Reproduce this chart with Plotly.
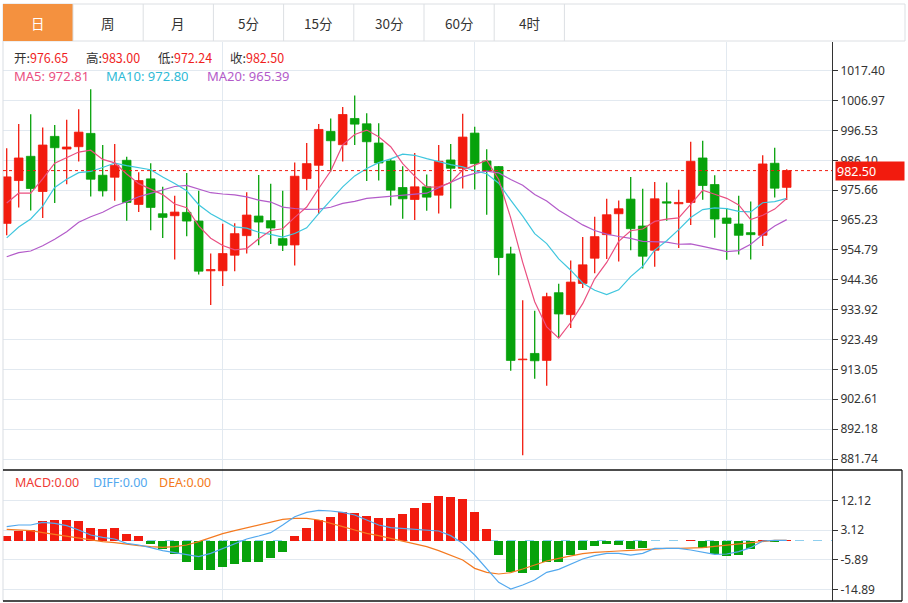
import numpy as np
import pandas as pd
import plotly.graph_objects as go

# ---------------- data ----------------
open_ = [964.07, 979.03, 987.49, 975.20, 994.45, 990.04, 990.85, 995.49, 980.88, 980.19,
         986.10, 970.68, 979.61, 967.43, 966.74, 967.90, 964.88, 947.49, 947.49, 952.94,
         959.78, 966.62, 965.00, 958.74, 956.53, 979.72, 984.36, 996.18, 991.55, 1000.71,
         998.85, 992.13, 985.87, 976.59, 972.42, 976.83, 973.92, 986.21, 983.31, 995.60,
         985.87, 983.89, 953.40, 916.42, 918.62, 916.19, 939.84, 932.19, 943.08, 951.90,
         960.13, 967.43, 972.53, 963.14, 954.68, 971.61, 970.91, 971.37, 986.91, 977.63,
         965.93, 963.84, 960.82, 959.90, 985.06, 976.65]
high = [990.27, 998.74, 1002.22, 997.58, 998.39, 1000.24, 1003.95, 1010.91, 991.43, 991.78,
        987.37, 981.92, 985.06, 976.83, 973.69, 981.69, 975.43, 953.52, 963.95, 964.07,
        974.97, 981.00, 977.87, 975.43, 985.29, 992.13, 998.74, 1000.71, 1004.76, 1008.71,
        1002.56, 999.08, 986.56, 984.01, 988.65, 981.11, 991.43, 991.78, 1002.33, 997.81,
        989.92, 984.13, 955.88, 937.17, 933.58, 939.84, 942.97, 951.08, 959.32, 966.39,
        972.65, 972.07, 980.30, 976.13, 978.56, 978.33, 975.78, 992.59, 992.94, 980.88,
        969.40, 973.69, 971.72, 987.84, 990.50, 983.00]
low = [959.90, 969.64, 968.59, 965.93, 971.14, 977.75, 985.64, 973.46, 973.46, 971.95,
       965.00, 968.01, 961.64, 958.97, 951.43, 959.55, 946.21, 935.55, 942.16, 947.37,
       953.52, 956.42, 956.88, 954.45, 949.35, 975.66, 967.32, 982.16, 985.64, 991.43,
       978.91, 979.03, 970.33, 965.69, 965.23, 968.48, 967.55, 969.29, 976.25, 975.89,
       967.08, 945.98, 912.59, 883.03, 909.81, 907.37, 924.19, 927.55, 941.46, 946.68,
       951.66, 950.74, 954.68, 948.30, 948.88, 965.00, 955.49, 963.49, 972.30, 959.08,
       951.32, 953.17, 951.43, 956.19, 973.11, 972.24]
close = [980.30, 986.91, 976.25, 991.43, 990.50, 990.74, 995.95, 979.49, 975.43, 984.36,
         971.37, 979.03, 969.64, 966.16, 968.01, 964.88, 947.37, 947.95, 953.52, 960.47,
         966.97, 964.53, 962.45, 956.42, 980.53, 984.94, 996.88, 992.94, 1002.10, 998.74,
         992.59, 985.17, 975.66, 972.65, 976.83, 973.23, 985.75, 983.31, 994.21, 984.94,
         982.39, 952.13, 916.19, 916.65, 916.07, 938.45, 932.42, 943.55, 949.58, 959.43,
         967.08, 969.17, 962.21, 952.59, 972.65, 971.14, 971.37, 985.75, 977.29, 965.58,
         964.07, 959.90, 960.13, 984.82, 976.36, 982.50]

ma5_head = [971.2, 974.6, 974.6, 979.6]
ma10_head = [959.0, 962.8, 965.6, 970.1, 976.6, 979.5, 981.8, 982.2, 983.6]
ma20_head = [952.42, 953.82, 954.41, 956.26, 958.50, 961.15, 964.44, 966.39, 967.93, 970.13,
             971.63, 973.38, 974.57, 975.72, 976.94, 977.36, 976.14, 974.78, 974.32]

macd_hist = [1.47, 2.88, 3.18, 5.91, 6.22, 6.32, 5.91, 3.79, 3.49, 3.69,
             1.87, 1.36, -0.96, -2.48, -3.99, -6.42, -9.05, -8.94, -7.93, -7.02,
             -6.42, -6.42, -5.41, -3.39, 1.36, 3.79, 6.22, 7.23, 8.64, 8.34,
             7.53, 6.82, 6.82, 8.04, 9.85, 11.37, 13.39, 13.29, 12.68, 8.64,
             3.39, -4.30, -9.65, -9.75, -8.94, -6.42, -6.42, -4.40, -2.88, -1.57,
             -0.96, -1.47, -2.48, -2.38, -0.20, -0.15, -0.15, 0.15, -2.17, -4.09,
             -4.60, -4.30, -2.68, 0.05, -0.56, 0.05]
diff = [4.19, 4.70, 4.70, 5.51, 5.21, 4.50, 3.18, 1.67, 0.96, 0.45,
        -0.86, -1.36, -2.17, -3.08, -3.69, -4.40, -4.90, -3.89, -2.38, -0.86,
        0.45, 1.36, 2.38, 4.70, 7.23, 8.54, 9.15, 8.95, 8.54, 7.73,
        6.22, 4.70, 3.89, 3.69, 3.49, 3.08, 2.88, 1.47, -0.86, -4.40,
        -8.44, -12.69, -14.71, -13.49, -11.98, -9.65, -8.74, -7.13, -5.61, -4.60,
        -3.89, -3.89, -4.40, -3.89, -2.38, -2.38, -2.38, -2.88, -3.59, -4.19,
        -4.09, -3.39, -2.17, -0.15, 0.05, 0.05]
dea = [3.39, 3.18, 2.98, 2.38, 1.87, 1.16, 0.66, 0.15, -0.35, -0.66,
       -1.16, -1.57, -1.87, -2.07, -1.87, -1.36, -0.35, 0.86, 2.07, 2.98,
       3.89, 4.70, 5.51, 6.42, 6.72, 6.72, 6.22, 5.10, 4.19, 3.18,
       2.17, 1.47, 0.66, -0.05, -0.86, -1.87, -3.08, -4.40, -5.91, -8.44,
       -9.65, -10.16, -9.75, -8.64, -7.43, -6.22, -5.41, -4.60, -3.99, -3.59,
       -3.28, -3.18, -2.98, -2.78, -2.38, -2.38, -2.38, -2.38, -2.17, -1.77,
       -1.36, -0.96, -0.56, -0.15, 0.05, 0.05]

price_ticks = [881.74, 892.18, 902.61, 913.05, 923.49, 933.92, 944.36,
               954.79, 965.23, 975.66, 986.10, 996.53, 1006.97, 1017.40]
macd_ticks = [12.12, 3.12, -5.89, -14.89]
vgrid_at = [18, 39, 60]
tabs = ["日", "周", "月", "5分", "15分", "30分", "60分", "4时"]
ohlc_names = ["开:", "高:", "低:", "收:"]
ma_labels = ["MA5: 972.81", "MA10: 972.80", "MA20: 965.39"]
macd_labels = ["MACD:0.00", "DIFF:0.00", "DEA:0.00"]

# ---------------- styling ----------------
W, H = 908, 603
RED, GREEN = "#f21b0e", "#07a20b"
C_MA5, C_MA10, C_MA20 = "#ea4f80", "#3fc6de", "#b35bc9"
C_DIFF, C_DEA = "#52a8ee", "#f47a20"
GRID = "#e2e9f0"
FONT = "Noto Sans CJK SC"
LATIN = "Noto Sans, Noto Sans CJK SC"

def px(x):
    return x / W

def py(y):
    return 1 - y / H

o = np.array(open_); hi = np.array(high); lo = np.array(low); c = np.array(close)
n = len(c)
idx = np.arange(n)
up = c >= o

def rolling(vals, head, w):
    s = pd.Series(vals).rolling(w).mean().to_numpy()
    s[:len(head)] = head
    return s

ma5 = rolling(c, ma5_head, 5)
ma10 = rolling(c, ma10_head, 10)
ma20 = rolling(c, ma20_head, 20)

fig = go.Figure()

# wicks
for mask, col in [(up, RED), (~up, GREEN)]:
    xs, ys = [], []
    for i in idx[mask]:
        xs += [i, i, None]
        ys += [lo[i], hi[i], None]
    fig.add_trace(go.Scatter(x=xs, y=ys, mode="lines", line=dict(color=col, width=1.3),
                             hoverinfo="skip", xaxis="x", yaxis="y"))

# bodies
for mask, col in [(up, RED), (~up, GREEN)]:
    fig.add_trace(go.Bar(x=idx[mask], base=np.minimum(o, c)[mask], y=np.abs(c - o)[mask],
                         width=0.72, marker=dict(color=col, line=dict(color=col, width=0.8)),
                         xaxis="x", yaxis="y"))

# moving averages
for vals, col in [(ma20, C_MA20), (ma10, C_MA10), (ma5, C_MA5)]:
    fig.add_trace(go.Scatter(x=idx, y=vals, mode="lines", line=dict(color=col, width=1.2),
                             xaxis="x", yaxis="y"))

# MACD
hist = np.array(macd_hist)
fig.add_trace(go.Bar(x=idx, y=hist, width=0.75,
                     marker=dict(color=[RED if v >= 0 else GREEN for v in hist], line=dict(width=0)),
                     xaxis="x2", yaxis="y2"))
fig.add_trace(go.Scatter(x=idx, y=dea, mode="lines", line=dict(color=C_DEA, width=1.2),
                         xaxis="x2", yaxis="y2"))
fig.add_trace(go.Scatter(x=idx, y=diff, mode="lines", line=dict(color=C_DIFF, width=1.2),
                         xaxis="x2", yaxis="y2"))

xr = [(3 - 6.7) / 12, (832 - 6.7) / 12]
xdom = [px(3), px(832)]
axis_common = dict(showline=True, linecolor="#333", linewidth=1, ticks="outside", ticklen=5,
                   tickcolor="#333", tickfont=dict(family=LATIN, size=12, color="#333"),
                   showgrid=True, gridcolor=GRID, gridwidth=1, zeroline=False, side="right",
                   fixedrange=True)

fig.update_layout(
    width=W, height=H, margin=dict(l=0, r=0, t=0, b=0),
    paper_bgcolor="white", plot_bgcolor="white", showlegend=False, barmode="overlay",
    bargap=0, hovermode=False,
    xaxis=dict(domain=xdom, range=xr, tickvals=vgrid_at, showticklabels=False, ticks="",
               showgrid=True, gridcolor=GRID, zeroline=False, showline=False, anchor="y",
               fixedrange=True),
    xaxis2=dict(domain=xdom, range=xr, tickvals=vgrid_at, showticklabels=False, ticks="",
                showgrid=True, gridcolor=GRID, zeroline=False, showline=False, anchor="y2",
                matches="x"),
    yaxis=dict(domain=[py(470), py(42)], range=[877.90, 1027.43], tickvals=price_ticks,
               ticktext=[f"{v:.2f}" for v in price_ticks], anchor="x", **axis_common),
    yaxis2=dict(domain=[py(601), py(470)], range=[-18.34, 21.38], tickvals=macd_ticks,
                ticktext=[f"{v:.2f}" for v in macd_ticks], anchor="x2", **axis_common),
)

shapes = []
# tab bar
shapes.append(dict(type="rect", xref="paper", yref="paper", x0=px(3), x1=px(905), y0=py(41), y1=py(4),
                   line=dict(color="#dcdfe3", width=1), fillcolor="white", layer="below"))
shapes.append(dict(type="rect", xref="paper", yref="paper", x0=px(3), x1=px(73), y0=py(41), y1=py(4),
                   line=dict(width=0), fillcolor="#f4913f"))
tab_w = 70.2
for k in range(1, len(tabs) + 1):
    xx = 73 + (k - 1) * tab_w
    shapes.append(dict(type="line", xref="paper", yref="paper", x0=px(xx), x1=px(xx), y0=py(41), y1=py(4),
                       line=dict(color="#dcdfe3", width=1)))
# chart frame
shapes.append(dict(type="line", xref="paper", yref="paper", x0=px(3), x1=px(3), y0=py(601), y1=py(41),
                   line=dict(color="#d9dde2", width=1)))
for yy in (470, 601):
    shapes.append(dict(type="line", xref="paper", yref="paper", x0=px(3), x1=px(902), y0=py(yy), y1=py(yy),
                       line=dict(color="#111", width=1.5)))
shapes.append(dict(type="line", xref="paper", yref="paper", x0=px(902), x1=px(902), y0=py(601), y1=py(470),
                   line=dict(color="#111", width=1.2)))
# last price line
shapes.append(dict(type="line", xref="paper", yref="y", x0=px(3), x1=px(832), y0=close[-1], y1=close[-1],
                   line=dict(color="#f21b0e", width=1, dash="dot")))
# MACD zero line
shapes.append(dict(type="line", xref="paper", yref="y2", x0=px(3), x1=px(832), y0=0, y1=0,
                   line=dict(color="#8fcfee", width=1, dash="dash"), layer="below"))
fig.update_layout(shapes=shapes)

ann = []
for k, t in enumerate(tabs):
    cx = 38 + k * tab_w
    ann.append(dict(xref="paper", yref="paper", x=px(cx), y=py(23), xanchor="center", yanchor="middle",
                    text=t, showarrow=False,
                    font=dict(family=FONT, size=13.5, color="white" if k == 0 else "#333")))

VAL_RED = "#f01e1e"
ohlc_vals = [open_[-1], high[-1], low[-1], close[-1]]
ohlc_x = [13, 85, 157, 229]
for name, v, xx in zip(ohlc_names, ohlc_vals, ohlc_x):
    ann.append(dict(xref="paper", yref="paper", x=px(xx), y=py(57), xanchor="left", yanchor="middle",
                    text=f"{name}<span style='color:{VAL_RED}'>{v:.2f}</span>", showarrow=False,
                    height=14, borderpad=0,
                    font=dict(family=FONT, size=12.5, color="#333")))
for lab, col, xx in zip(ma_labels, [C_MA5, "#2fbad6", C_MA20], [13, 105, 206]):
    ann.append(dict(xref="paper", yref="paper", x=px(xx), y=py(76), xanchor="left", yanchor="middle",
                    text=lab, showarrow=False, height=14, borderpad=0,
                    font=dict(family=LATIN, size=13, color=col)))
for lab, col, xx in zip(macd_labels, ["#ef3b35", C_DIFF, C_DEA], [13, 91, 157]):
    ann.append(dict(xref="paper", yref="paper", x=px(xx), y=py(482), xanchor="left", yanchor="middle",
                    text=lab, showarrow=False, font=dict(family=LATIN, size=12.5, color=col)))
# last price tag
ann.append(dict(xref="paper", yref="y", x=px(835), y=close[-1], xanchor="left", yanchor="middle",
                text=f"{close[-1]:.2f}", showarrow=False, bgcolor="#f21b0e", width=66, height=16,
                borderpad=1, align="left", font=dict(family=LATIN, size=12.5, color="white")))
fig.update_layout(annotations=ann)

fig.write_html("out.html", config={"displayModeBar": False, "staticPlot": True},
               post_script="document.body.style.margin='0';document.body.style.padding='0';")
